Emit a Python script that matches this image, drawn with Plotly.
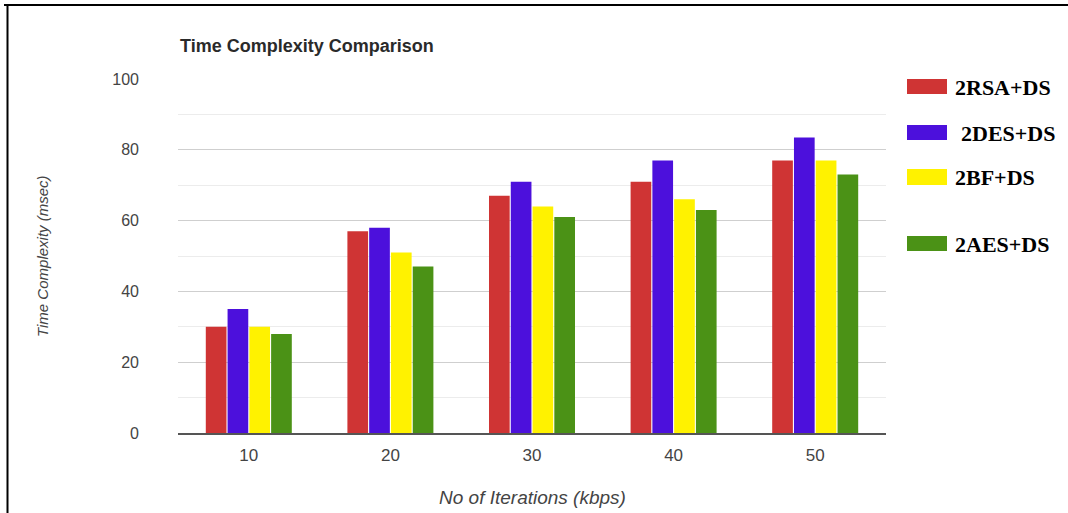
import plotly.graph_objects as go

# Data
categories = ["10", "20", "30", "40", "50"]
series_names = ["2RSA+DS", "2DES+DS", "2BF+DS", "2AES+DS"]
rsa_ds = [30, 57, 67, 71, 77]
des_ds = [35, 58, 71, 77, 83.5]
bf_ds = [30, 51, 64, 66, 77]
aes_ds = [28, 47, 61, 63, 73]
y_ticks = [0, 20, 40, 60, 80, 100]

series_values = [rsa_ds, des_ds, bf_ds, aes_ds]
colors = ["#cf3434", "#4c10dc", "#fff200", "#4b9216"]

W, H = 1068, 513
L, R, T, B = 178, 182, 79, 80
PW, PH = W - L - R, H - T - B


def px_x(px):
    return (px - L) / PW


def px_y(py):
    return (H - B - py) / PH


fig = go.Figure()
for name, vals, col in zip(series_names, series_values, colors):
    fig.add_trace(go.Bar(
        x=categories, y=vals, name=name, marker_color=col,
        marker_line_width=0, showlegend=False,
    ))

shapes = []
annotations = []

# Custom legend: swatch + bold serif label, irregular spacing
legend_rows = [(79, 94, 0), (125, 140, 6), (169, 185, 0), (236, 251, 0)]
for (top, bot, dx), name, col in zip(legend_rows, series_names, colors):
    shapes.append(dict(type="rect", xref="paper", yref="paper",
                       x0=px_x(907), x1=px_x(947), y0=px_y(bot), y1=px_y(top),
                       fillcolor=col, line=dict(width=0)))
    annotations.append(dict(text=f"<b>{name}</b>", xref="paper", yref="paper",
                            x=px_x(953 + dx), y=px_y((top + bot) / 2 + 0.5),
                            xanchor="left", yanchor="middle", showarrow=False,
                            font=dict(family="Liberation Serif", size=22, color="#000")))

# Frame lines (top and left)
shapes.append(dict(type="line", xref="paper", yref="paper",
                   x0=px_x(4), x1=px_x(1070), y0=px_y(5), y1=px_y(5),
                   line=dict(color="#000", width=2)))
shapes.append(dict(type="line", xref="paper", yref="paper",
                   x0=px_x(7.5), x1=px_x(7.5), y0=px_y(4), y1=px_y(515),
                   line=dict(color="#000", width=2)))

# Title and axis titles
annotations.append(dict(text="<b>Time Complexity Comparison</b>", xref="paper", yref="paper",
                        x=0, y=px_y(46), xanchor="left", yanchor="middle", showarrow=False,
                        font=dict(family="Liberation Sans", size=18, color="#2a2a2a")))
annotations.append(dict(text="<i>Time Complexity (msec)</i>", xref="paper", yref="paper",
                        x=px_x(42), y=0.5, xanchor="center", yanchor="middle", textangle=-90,
                        showarrow=False,
                        font=dict(family="Liberation Sans", size=15, color="#444")))
annotations.append(dict(text="<i>No of Iterations (kbps)</i>", xref="paper", yref="paper",
                        x=px_x(532), y=px_y(497), xanchor="center", yanchor="middle",
                        showarrow=False,
                        font=dict(family="Liberation Sans", size=19, color="#444")))

fig.update_layout(
    width=W, height=H,
    margin=dict(l=L, r=R, t=T, b=B, pad=0),
    paper_bgcolor="white", plot_bgcolor="white",
    barmode="group", bargap=0.385, bargroupgap=0.05,
    shapes=shapes, annotations=annotations,
    font=dict(family="Liberation Sans", color="#444"),
)
fig.update_xaxes(
    type="category", showgrid=False, showline=True, linecolor="#555", linewidth=2,
    ticks="", tickfont=dict(size=17, color="#444"), ticklabelstandoff=6,
)
fig.update_yaxes(
    range=[0, 100], tickvals=y_ticks, showgrid=True, gridcolor="#cfcfcf", gridwidth=1,
    minor=dict(dtick=10, showgrid=True, gridcolor="#ececec", gridwidth=1),
    zeroline=False, showline=False, ticks="",
    tickfont=dict(size=16, color="#444"), ticklabelstandoff=38,
)

fig.write_html("out.html")
